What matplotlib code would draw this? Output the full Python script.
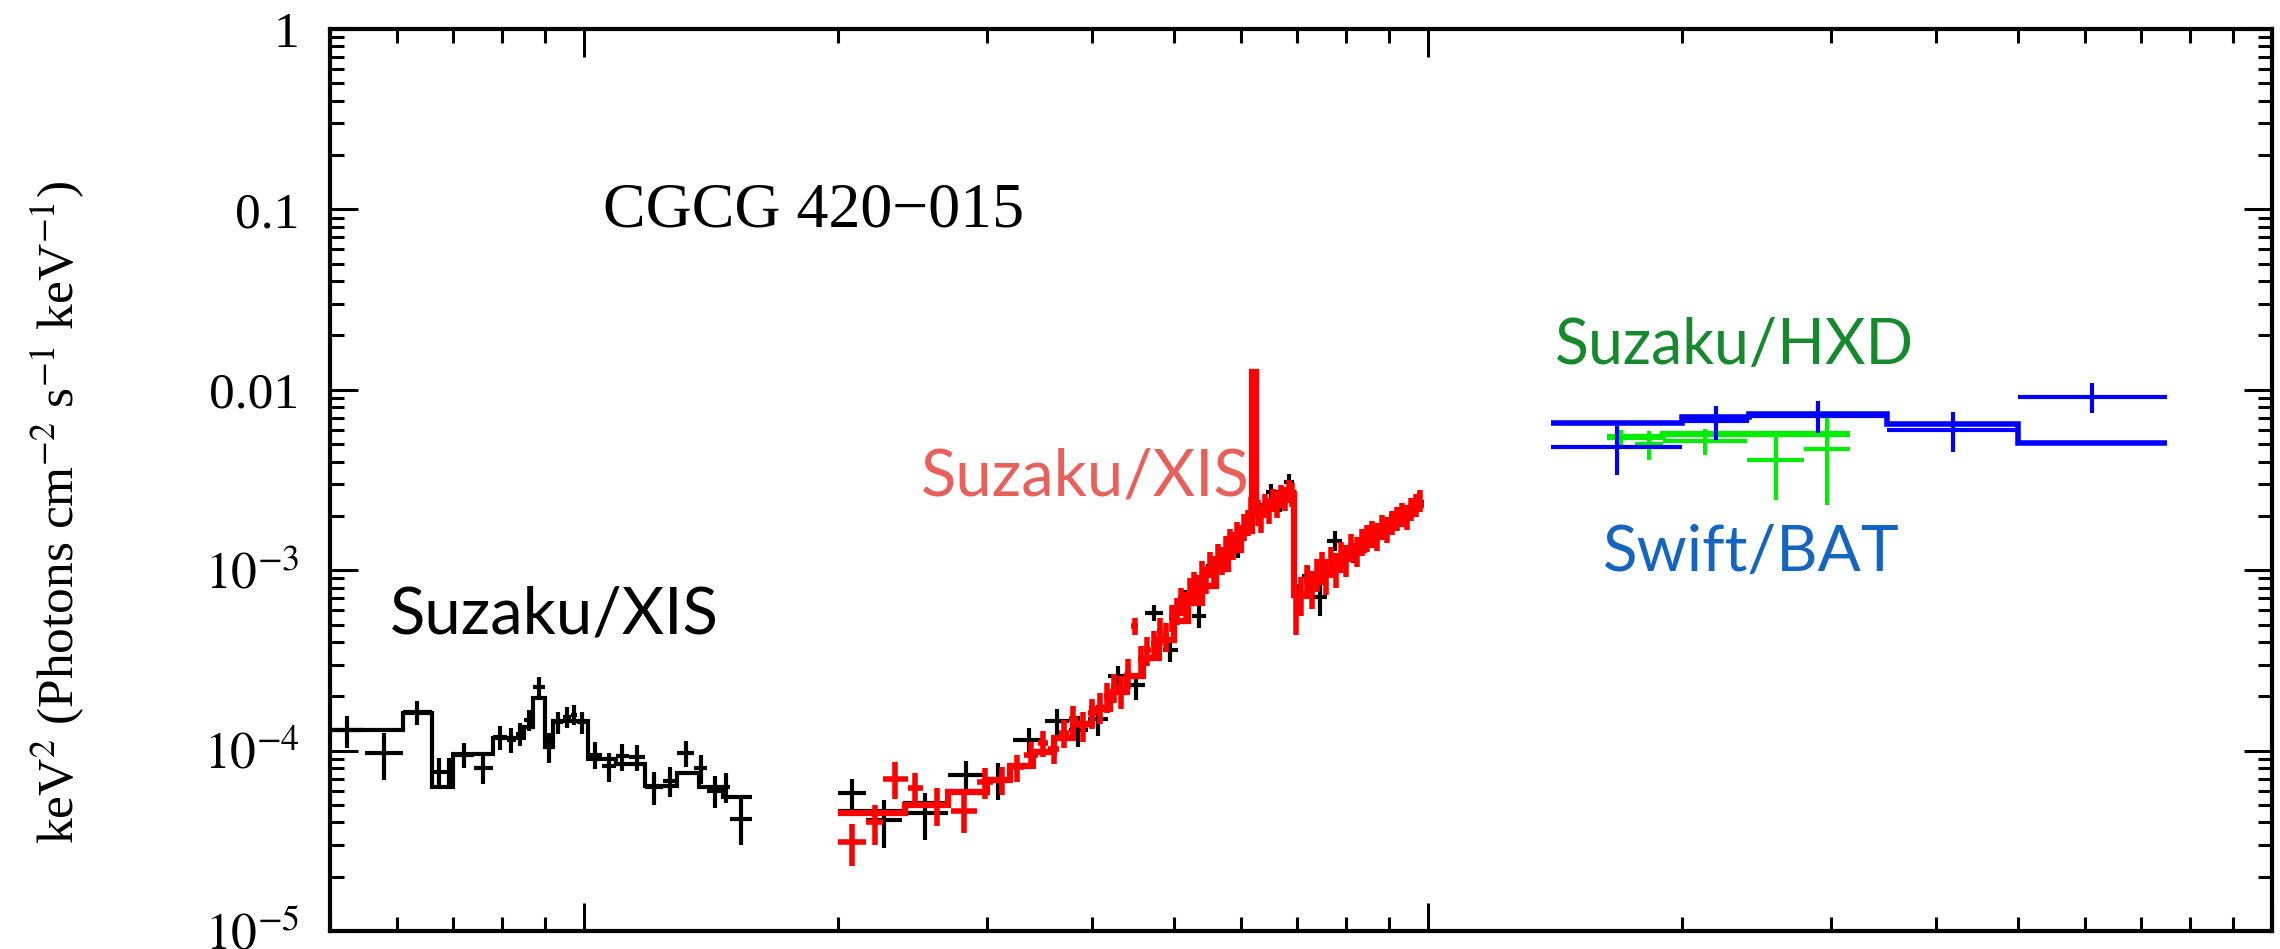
import numpy as np
import matplotlib
matplotlib.use('Agg')
import matplotlib.pyplot as plt

plt.rcParams['font.family'] = 'serif'
plt.rcParams['font.serif'] = ['Liberation Serif', 'DejaVu Serif']
plt.rcParams['mathtext.fontset'] = 'stix'

# --- Suzaku/XIS soft band (black), energies in keV, keV^2 photons cm^-2 s^-1 keV^-1
soft_edges = [0.50, 0.55, 0.61, 0.66, 0.685, 0.70, 0.74, 0.78, 0.81, 0.83, 0.85,
              0.87, 0.90, 0.92, 0.945, 0.965, 0.98, 1.01, 1.05, 1.09, 1.13, 1.18,
              1.24, 1.29, 1.35, 1.40, 1.46, 1.49, 1.58]
soft_flux = [1.30e-4, 9.7e-5, 1.64e-4, 7.6e-5, 7.6e-5, 9.5e-5, 8.0e-5, 1.19e-4,
             1.15e-4, 1.24e-4, 1.48e-4, 2.25e-4, 1.05e-4, 1.44e-4, 1.54e-4, 1.58e-4,
             1.44e-4, 9.5e-5, 8.2e-5, 9.3e-5, 9.2e-5, 6.3e-5, 6.8e-5, 9.7e-5,
             8.0e-5, 6.0e-5, 6.3e-5, 4.2e-5]
soft_err = [2.6e-5, 2.8e-5, 2.5e-5, 1.5e-5, 1.5e-5, 1.5e-5, 1.5e-5, 1.8e-5,
            1.8e-5, 1.8e-5, 2.0e-5, 3.0e-5, 2.0e-5, 2.0e-5, 2.0e-5, 2.0e-5,
            2.0e-5, 1.6e-5, 1.5e-5, 1.6e-5, 1.5e-5, 1.3e-5, 1.3e-5, 1.6e-5,
            1.5e-5, 1.2e-5, 1.2e-5, 1.2e-5]
soft_model_edges = [0.50, 0.61, 0.66, 0.70, 0.78, 0.85, 0.87, 0.90, 0.92, 1.01,
                    1.09, 1.18, 1.29, 1.37, 1.46, 1.58]
soft_model = [1.30e-4, 1.62e-4, 6.3e-5, 9.6e-5, 1.17e-4, 1.35e-4, 1.95e-4, 1.05e-4,
              1.45e-4, 9.0e-5, 8.4e-5, 6.4e-5, 7.5e-5, 6.3e-5, 5.5e-5]

# --- Suzaku/XIS 2-10 keV, black
fi_edges = [2.00, 2.16, 2.38, 2.70, 2.98, 3.22, 3.52, 3.75, 3.95, 4.18, 4.40, 4.62,
            4.85, 5.05, 5.25, 5.45, 5.65, 5.85, 6.05, 6.18, 6.26, 6.42, 6.60, 6.75,
            6.93, 7.10, 7.30, 7.60, 7.90, 8.40, 9.00, 9.60, 9.90]
fi_flux = [5.8e-5, 4.1e-5, 4.5e-5, 7.3e-5, 6.9e-5, 1.14e-4, 1.46e-4, 1.30e-4,
           1.5e-4, 2.6e-4, 2.3e-4, 5.8e-4, 3.6e-4, 7.0e-4, 5.6e-4, 1.05e-3,
           1.2e-3, 1.35e-3, 1.9e-3, 8.3e-3, 2.1e-3, 2.7e-3, 2.4e-3, 3.1e-3,
           7.2e-4, 9.3e-4, 7.1e-4, 1.46e-3, 1.25e-3, 1.6e-3, 2.0e-3, 2.4e-3]
fi_err = [1.2e-5, 1.2e-5, 1.3e-5, 1.5e-5, 1.6e-5, 2.0e-5, 2.5e-5, 2.5e-5,
          3.0e-5, 3.5e-5, 4.0e-5, 6.0e-5, 5.0e-5, 8.0e-5, 8.0e-5, 1.2e-4,
          1.5e-4, 1.8e-4, 2.5e-4, 8.0e-4, 2.5e-4, 3.0e-4, 3.0e-4, 3.0e-4,
          1.2e-4, 1.3e-4, 1.5e-4, 1.8e-4, 1.6e-4, 2.0e-4, 2.5e-4, 3.0e-4]

# --- Suzaku/XIS 2-10 keV, red
bi_edges = [2.00, 2.16, 2.26, 2.42, 2.52, 2.72, 2.92, 3.05, 3.20, 3.32, 3.45, 3.55,
            3.65, 3.75, 3.85, 3.95, 4.05, 4.13, 4.21, 4.29, 4.37, 4.45, 4.53, 4.61,
            4.69, 4.77, 4.85, 4.93, 5.01, 5.07, 5.13, 5.19, 5.25, 5.31, 5.37, 5.43,
            5.49, 5.55, 5.61, 5.67, 5.73, 5.79, 5.85, 5.91, 5.97, 6.03, 6.09, 6.15,
            6.19, 6.25, 6.31, 6.38, 6.45, 6.52, 6.59, 6.66, 6.73, 6.80, 6.87, 6.93,
            7.03, 7.13, 7.23, 7.33, 7.43, 7.53, 7.63, 7.73, 7.83, 7.93, 8.05, 8.17,
            8.29, 8.41, 8.53, 8.65, 8.77, 8.89, 9.01, 9.13, 9.25, 9.37, 9.49, 9.61,
            9.73, 9.85]
bi_flux = [3.1e-5, 4.0e-5, 7.0e-5, 6.2e-5, 5.0e-5, 4.6e-5, 6.7e-5, 6.9e-5,
           8.1e-5, 9.5e-5, 1.10e-4, 1.02e-4, 1.25e-4, 1.50e-4, 1.38e-4, 1.62e-4,
           1.75e-4, 2.0e-4, 2.25e-4, 2.15e-4, 2.7e-4, 4.9e-4, 3.2e-4, 3.6e-4,
           3.9e-4, 4.6e-4, 4.3e-4, 5.5e-4, 6.0e-4, 6.8e-4, 6.4e-4, 7.7e-4,
           8.3e-4, 8.0e-4, 9.6e-4, 9.0e-4, 1.08e-3, 1.02e-3, 1.2e-3, 1.14e-3,
           1.32e-3, 1.45e-3, 1.38e-3, 1.6e-3, 1.52e-3, 1.75e-3, 1.85e-3, 2.2e-3,
           1.22e-2, 2.1e-3, 1.95e-3, 2.3e-3, 2.15e-3, 2.45e-3, 2.3e-3, 2.6e-3,
           2.5e-3, 2.75e-3, 2.65e-3, 6.2e-4, 7.4e-4, 8.8e-4, 8.0e-4, 9.6e-4,
           1.05e-3, 9.4e-4, 1.12e-3, 1.02e-3, 1.2e-3, 1.15e-3, 1.35e-3, 1.28e-3,
           1.45e-3, 1.52e-3, 1.6e-3, 1.55e-3, 1.75e-3, 1.7e-3, 1.85e-3, 1.95e-3,
           2.05e-3, 1.98e-3, 2.2e-3, 2.3e-3, 2.45e-3]
bi_err = [8e-6, 1.0e-5, 1.6e-5, 1.3e-5, 1.2e-5, 1.1e-5, 1.3e-5, 1.2e-5,
          1.4e-5, 1.6e-5, 1.8e-5, 1.8e-5, 2.2e-5, 2.6e-5, 2.6e-5, 3.0e-5,
          3.4e-5, 3.8e-5, 4.2e-5, 4.4e-5, 5.0e-5, 5.0e-5, 6.0e-5, 6.6e-5,
          7.0e-5, 8.0e-5, 8.0e-5, 9.5e-5, 1.05e-4, 1.2e-4, 1.2e-4, 1.35e-4,
          1.45e-4, 1.45e-4, 1.6e-4, 1.6e-4, 1.8e-4, 1.8e-4, 2.0e-4, 2.0e-4,
          2.3e-4, 2.4e-4, 2.4e-4, 2.6e-4, 2.6e-4, 2.9e-4, 3.0e-4, 3.4e-4,
          6.0e-4, 3.4e-4, 3.4e-4, 3.5e-4, 3.5e-4, 3.6e-4, 3.6e-4, 3.8e-4,
          3.8e-4, 4.0e-4, 4.0e-4, 1.8e-4, 1.8e-4, 1.9e-4, 1.9e-4, 2.0e-4,
          2.1e-4, 2.1e-4, 2.2e-4, 2.2e-4, 2.3e-4, 2.3e-4, 2.4e-4, 2.4e-4,
          2.5e-4, 2.6e-4, 2.7e-4, 2.7e-4, 2.8e-4, 2.8e-4, 2.9e-4, 3.0e-4,
          3.1e-4, 3.1e-4, 3.2e-4, 3.3e-4, 3.4e-4]

xis_model_edges = [2.0, 2.4, 2.7, 3.0, 3.2, 3.4, 3.6, 3.8, 4.0, 4.2, 4.4, 4.6, 4.8,
                   5.0, 5.2, 5.4, 5.6, 5.8, 6.0, 6.19, 6.25, 6.45, 6.65, 6.93, 7.2,
                   7.5, 7.8, 8.1, 8.4, 8.7, 9.0, 9.3, 9.6, 9.9]
fi_model = [4.6e-5, 5.1e-5, 6.0e-5, 7.0e-5, 8.3e-5, 1.0e-4, 1.19e-4, 1.42e-4,
            1.72e-4, 2.12e-4, 2.6e-4, 3.3e-4, 4.1e-4, 5.2e-4, 6.6e-4, 8.2e-4,
            1.02e-3, 1.3e-3, 1.65e-3, 8.5e-3, 2.15e-3, 2.4e-3, 2.7e-3, 7.5e-4,
            8.8e-4, 1.0e-3, 1.15e-3, 1.3e-3, 1.48e-3, 1.65e-3, 1.85e-3, 2.05e-3,
            2.3e-3]
bi_model = [4.5e-5, 5.0e-5, 5.9e-5, 6.9e-5, 8.2e-5, 9.8e-5, 1.17e-4, 1.4e-4,
            1.7e-4, 2.1e-4, 2.6e-4, 3.25e-4, 4.1e-4, 5.2e-4, 6.6e-4, 8.2e-4,
            1.02e-3, 1.3e-3, 1.65e-3, 1.25e-2, 2.1e-3, 2.35e-3, 2.65e-3, 7.3e-4,
            8.6e-4, 1.0e-3, 1.15e-3, 1.3e-3, 1.48e-3, 1.65e-3, 1.85e-3, 2.05e-3,
            2.3e-3]

# --- Suzaku/HXD (green)
hxd_edges = [16.3, 17.6, 19.0, 23.9, 27.9, 31.6]
hxd_flux = [5.4e-3, 5.0e-3, 5.2e-3, 4.1e-3, 4.7e-3]
hxd_err = [6e-4, 9e-4, 8.5e-4, 1.65e-3, 2.4e-3]
hxd_model_edges = [16.3, 19.0, 23.9, 31.6]
hxd_model = [5.45e-3, 5.7e-3, 5.7e-3]

# --- Swift/BAT (blue)
bat_edges = [14, 20, 24, 35, 50, 75]
bat_flux = [4.84e-3, 6.7e-3, 7.2e-3, 6.0e-3, 9.16e-3]
bat_err = [1.45e-3, 1.4e-3, 1.45e-3, 1.5e-3, 1.7e-3]
bat_model = [6.52e-3, 7.04e-3, 7.34e-3, 6.45e-3, 5.05e-3]


def crosses(ax, edges, flux, err, color, lw, z):
    e = np.array(edges)
    lo, hi = e[:-1], e[1:]
    x = np.sqrt(lo * hi)
    ax.errorbar(x, flux, xerr=[x - lo, hi - x], yerr=err, fmt='none',
                ecolor=color, elinewidth=lw, capsize=0, zorder=z)


fig = plt.figure(figsize=(22.8, 9.49), dpi=100)
ax = fig.add_axes([330 / 2280, 1 - 931 / 949, (2272 - 330) / 2280, (931 - 29) / 949])
ax.set_xscale('log')
ax.set_yscale('log')
ax.set_xlim(0.5, 100)
ax.set_ylim(1e-5, 1)

lw = 3.0
crosses(ax, soft_edges, soft_flux, soft_err, 'black', lw, 3)
ax.stairs(soft_model, soft_model_edges, baseline=None, color='black', lw=lw, zorder=3)

crosses(ax, fi_edges, fi_flux, fi_err, 'black', lw, 3)
ax.stairs(fi_model, xis_model_edges, baseline=None, color='black', lw=lw, zorder=3)
crosses(ax, bi_edges, bi_flux, bi_err, 'red', 4.0, 4)
ax.stairs(bi_model, xis_model_edges, baseline=None, color='red', lw=4.5, zorder=4)

crosses(ax, hxd_edges, hxd_flux, hxd_err, '#00ee00', lw, 3)
ax.stairs(hxd_model, hxd_model_edges, baseline=None, color='#00ee00', lw=lw + 1.5, zorder=3)
crosses(ax, bat_edges, bat_flux, bat_err, 'blue', lw, 5)
ax.stairs(bat_model, bat_edges, baseline=None, color='blue', lw=lw + 1, zorder=5)

for s in ax.spines.values():
    s.set_linewidth(3)
ax.tick_params(which='both', direction='in', top=True, right=True, width=2.2,
               labelbottom=False)
ax.tick_params(which='major', length=20, pad=22, labelsize=37)
ax.tick_params(which='minor', length=10)
ax.set_yticks([1e-5, 1e-4, 1e-3, 1e-2, 1e-1, 1])
ax.set_yticklabels([r'$10^{-5}$', r'$10^{-4}$', r'$10^{-3}$', '0.01', '0.1', '1'])

fig.text(58 / 2280, 1 - 512 / 949,
         r'keV$^2$ (Photons cm$^{-2}$ s$^{-1}$ keV$^{-1}$)',
         rotation=90, ha='center', va='center', fontsize=37)
fig.text(814 / 2280, 1 - 212 / 949, 'CGCG 420\u2212015',
         ha='center', va='center', fontsize=46)

fig.text(554 / 2280, 1 - 615 / 949, 'Suzaku/XIS', color='black',
         family='Lato', ha='center', va='center', fontsize=47)
fig.text(1085 / 2280, 1 - 477 / 949, 'Suzaku/XIS', color='#e8605a',
         family='Lato', ha='center', va='center', fontsize=47, zorder=6)
fig.text(1734 / 2280, 1 - 346 / 949, 'Suzaku/HXD', color='#15892c',
         family='Lato', ha='center', va='center', fontsize=45)
fig.text(1751 / 2280, 1 - 553 / 949, 'Swift/BAT', color='#1565c0',
         family='Lato', ha='center', va='center', fontsize=46)

fig.savefig('out.png', dpi=100)
